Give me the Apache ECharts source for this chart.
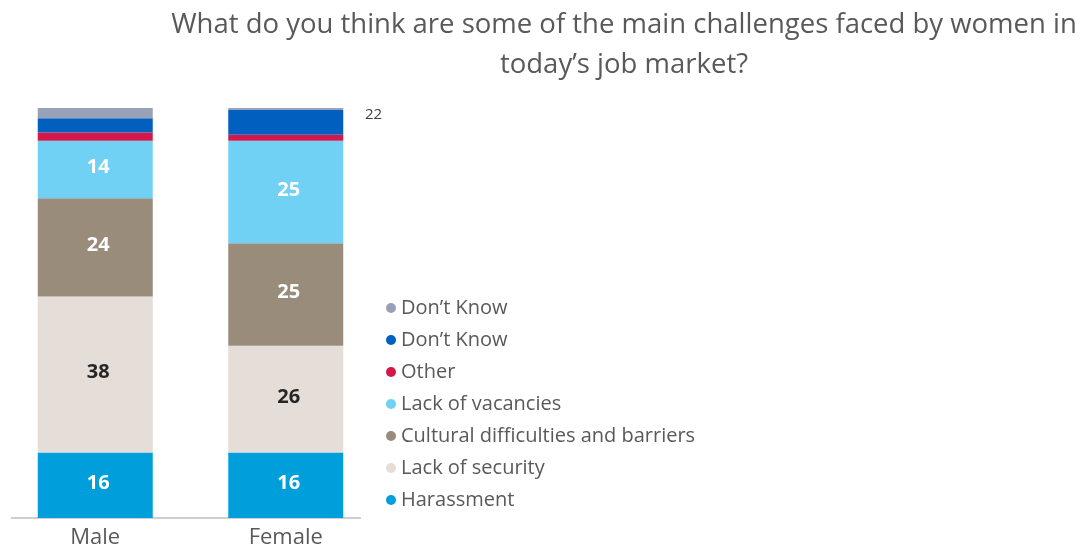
<!DOCTYPE html>
<html>
<head>
<meta charset="utf-8">
<script src="https://cdn.jsdelivr.net/npm/echarts@6/dist/echarts.min.js"></script>
<style>
  html, body { margin: 0; padding: 0; background: #ffffff; }
  #chart { width: 1082px; height: 549px; }
</style>
</head>
<body>
<div id="chart"></div>
<script>
// Survey groups
const categories = ['Male', 'Female'];

// Share of answers (%) per group, stacked bottom to top
const harassment = [16, 16];
const lackOfSecurity = [38, 26];
const culturalBarriers = [24, 25];
const lackOfVacancies = [14, 25];
const other = [2, 1.5];
const dontKnowA = [3.5, 6];
const dontKnowB = [2.5, 0.5];

// Series names as shown in the legend (the second "Don't Know" carries a trailing space so both entries stay separate)
const seriesNames = [
  'Harassment',
  'Lack of security',
  'Cultural difficulties and barriers',
  'Lack of vacancies',
  'Other',
  'Don\u2019t Know',
  'Don\u2019t Know '
];
const seriesValues = [harassment, lackOfSecurity, culturalBarriers, lackOfVacancies, other, dontKnowA, dontKnowB];
const seriesColors = ['#009fdb', '#e4ddd8', '#9a8c7a', '#70d1f4', '#d4184a', '#005fbf', '#99a1b8'];
const labelColors = ['#ffffff', '#262626', '#ffffff', '#ffffff', null, null, null];

const FONT = '"Open Sans", sans-serif';

const series = seriesNames.map((name, i) => ({
  name: name,
  type: 'bar',
  stack: 'total',
  barWidth: 115,
  data: seriesValues[i],
  itemStyle: { color: seriesColors[i] },
  label: labelColors[i] ? {
    show: true,
    position: 'inside',
    offset: [3, -2],
    color: labelColors[i],
    fontFamily: FONT,
    fontWeight: 'bold',
    fontSize: 20
  } : { show: false },
  emphasis: { disabled: true }
}));

const chart = echarts.init(document.getElementById('chart'), null, { renderer: 'canvas' });
chart.setOption({
  animation: false,
  backgroundColor: '#ffffff',
  title: {
    text: 'What do you think are some of the main challenges faced by women in\ntoday\u2019s job market?',
    left: 619,
    top: 0,
    textAlign: 'center',
    textStyle: {
      fontFamily: FONT,
      fontWeight: 'normal',
      fontSize: 27.5,
      lineHeight: 40,
      color: '#595959',
      align: 'center'
    }
  },
  legend: {
    orient: 'vertical',
    left: 381,
    top: 292,
    icon: 'circle',
    itemWidth: 10,
    itemHeight: 10,
    itemGap: 10,
    data: seriesNames.slice().reverse(),
    textStyle: {
      fontFamily: FONT,
      fontSize: 20,
      lineHeight: 22,
      color: '#595959'
    },
    selectedMode: false
  },
  grid: {
    left: 0,
    top: 108,
    width: 381,
    bottom: 31,
    containLabel: false
  },
  xAxis: {
    type: 'category',
    data: categories,
    axisLine: { show: false },
    axisTick: { show: false },
    axisLabel: {
      fontFamily: FONT,
      fontSize: 22,
      color: '#595959',
      margin: 9
    }
  },
  yAxis: {
    type: 'value',
    min: 0,
    max: 100,
    show: false,
    splitLine: { show: false }
  },
  graphic: [
    {
      // baseline under the bars
      type: 'line',
      shape: { x1: 11, y1: 518, x2: 361, y2: 518 },
      style: { stroke: '#bfbfbf', lineWidth: 1.5 }
    },
    {
      type: 'text',
      left: 365,
      top: 107,
      style: {
        text: '22',
        fontFamily: FONT,
        fontSize: 15,
        fill: '#404040'
      }
    }
  ],
  series: series
});
</script>
</body>
</html>
